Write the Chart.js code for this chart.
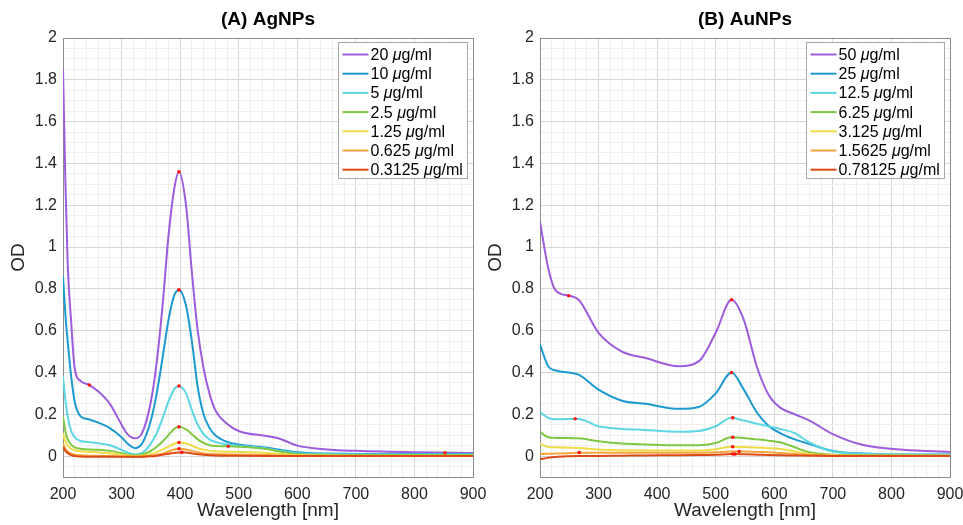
<!DOCTYPE html>
<html>
<head>
<meta charset="utf-8">
<script src="https://cdn.jsdelivr.net/npm/chart.js@4.4.0/dist/chart.umd.min.js"></script>
<style>
  body { margin: 0; background: #fff; width: 963px; height: 525px; overflow: hidden; position: relative; }
  .panel { position: absolute; top: 0; height: 525px; }
</style>
</head>
<body>
<div class="panel" style="left:0;width:500px"><canvas id="chartA" width="500" height="525"></canvas></div>
<div class="panel" style="left:477px;width:486px"><canvas id="chartB" width="486" height="525"></canvas></div>
<script>
// ---- (A) AgNPs ----
const agWavelength = [200, 204, 208, 214, 220, 230, 245, 260, 280, 300, 310, 323, 335, 350, 360, 370, 380, 390, 398, 410, 420, 430, 440, 450, 460, 480, 500, 550, 570, 600, 650, 700, 800, 900];
const ag20     = [1.85, 1.32, 0.92, 0.64, 0.42, 0.36, 0.34, 0.31, 0.25, 0.15, 0.105, 0.085, 0.11, 0.26, 0.45, 0.72, 1.05, 1.28, 1.36, 1.2, 0.88, 0.6, 0.42, 0.3, 0.22, 0.155, 0.12, 0.095, 0.083, 0.05, 0.032, 0.025, 0.018, 0.015];
const ag10     = [0.86, 0.68, 0.55, 0.38, 0.26, 0.19, 0.175, 0.16, 0.134, 0.09, 0.06, 0.038, 0.06, 0.17, 0.3, 0.47, 0.65, 0.77, 0.795, 0.72, 0.55, 0.33, 0.2, 0.135, 0.1, 0.068, 0.055, 0.04, 0.03, 0.018, 0.012, 0.01, 0.01, 0.01];
const ag5      = [0.38, 0.27, 0.19, 0.12, 0.09, 0.072, 0.067, 0.062, 0.052, 0.03, 0.017, 0.008, 0.015, 0.06, 0.11, 0.18, 0.26, 0.32, 0.335, 0.3, 0.22, 0.15, 0.105, 0.08, 0.068, 0.056, 0.05, 0.035, 0.025, 0.014, 0.01, 0.008, 0.008, 0.008];
const ag2_5    = [0.19, 0.12, 0.08, 0.055, 0.042, 0.035, 0.031, 0.03, 0.025, 0.014, 0.007, 0.003, 0.008, 0.025, 0.045, 0.07, 0.1, 0.13, 0.14, 0.128, 0.105, 0.08, 0.063, 0.052, 0.048, 0.047, 0.045, 0.033, 0.022, 0.01, 0.006, 0.005, 0.005, 0.005];
const ag1_25   = [0.11, 0.07, 0.05, 0.035, 0.028, 0.023, 0.02, 0.018, 0.014, 0.007, 0.003, 0.0, 0.002, 0.01, 0.02, 0.032, 0.045, 0.06, 0.065, 0.06, 0.05, 0.038, 0.03, 0.025, 0.023, 0.021, 0.02, 0.015, 0.01, 0.005, 0.003, 0.002, 0.002, 0.002];
const ag0_625  = [0.06, 0.035, 0.022, 0.012, 0.007, 0.004, 0.002, 0.001, 0.0, -0.002, -0.003, -0.003, -0.002, 0.002, 0.006, 0.012, 0.022, 0.032, 0.035, 0.032, 0.025, 0.018, 0.013, 0.01, 0.009, 0.008, 0.007, 0.005, 0.003, 0.002, 0.001, 0.0, 0.0, 0.0];
const ag0_3125 = [0.045, 0.025, 0.014, 0.005, 0.0, -0.002, -0.003, -0.003, -0.003, -0.003, -0.003, -0.003, -0.003, -0.001, 0.002, 0.006, 0.011, 0.015, 0.017, 0.017, 0.013, 0.009, 0.006, 0.004, 0.003, 0.002, 0.002, 0.001, 0.0, 0.0, 0.0, 0.0, 0.0, 0.0];
const agLabels = ['20', '10', '5', '2.5', '1.25', '0.625', '0.3125'];
const agMarkX = [245, 398, 852, 398, 398, 398, 482, 398, 398, 403];
const agMarkY = [0.34, 1.36, 0.016, 0.795, 0.335, 0.14, 0.047, 0.065, 0.035, 0.018];

// ---- (B) AuNPs ----
const auWavelength = [200, 214, 226, 249, 266, 300, 340, 380, 437, 471, 500, 527, 548, 570, 590, 610, 635, 660, 700, 750, 820, 900];
const au50      = [1.12, 0.9, 0.795, 0.767, 0.748, 0.59, 0.5, 0.469, 0.43, 0.453, 0.59, 0.748, 0.652, 0.43, 0.295, 0.232, 0.2, 0.17, 0.105, 0.054, 0.03, 0.02];
const au25      = [0.533, 0.43, 0.41, 0.4, 0.39, 0.318, 0.265, 0.25, 0.226, 0.235, 0.3, 0.4, 0.318, 0.21, 0.145, 0.11, 0.08, 0.058, 0.025, 0.012, 0.008, 0.008];
const au12_5    = [0.21, 0.183, 0.176, 0.177, 0.177, 0.143, 0.13, 0.125, 0.116, 0.12, 0.143, 0.183, 0.17, 0.155, 0.143, 0.13, 0.11, 0.065, 0.022, 0.012, 0.008, 0.008];
const au6_25    = [0.116, 0.09, 0.087, 0.086, 0.085, 0.071, 0.06, 0.056, 0.052, 0.052, 0.063, 0.09, 0.086, 0.08, 0.074, 0.066, 0.042, 0.018, 0.006, 0.004, 0.003, 0.003];
const au3_125   = [0.058, 0.044, 0.042, 0.04, 0.039, 0.031, 0.028, 0.027, 0.027, 0.027, 0.033, 0.045, 0.043, 0.041, 0.038, 0.034, 0.022, 0.01, 0.004, 0.002, 0.002, 0.002];
const au1_5625  = [0.01, 0.011, 0.012, 0.014, 0.016, 0.016, 0.016, 0.016, 0.016, 0.016, 0.018, 0.022, 0.022, 0.02, 0.018, 0.015, 0.01, 0.006, 0.003, 0.002, 0.002, 0.002];
const au0_78125 = [-0.015, -0.008, -0.004, -0.001, 0.0, 0.001, 0.002, 0.003, 0.004, 0.005, 0.006, 0.01, 0.009, 0.007, 0.005, 0.004, 0.003, 0.002, 0.001, 0.001, 0.001, 0.001];
const auLabels = ['50', '25', '12.5', '6.25', '3.125', '1.5625', '0.78125'];
const auMarkX = [249, 527, 527, 260, 529, 529, 529, 267, 540, 529, 533];
const auMarkY = [0.767, 0.748, 0.4, 0.179, 0.183, 0.09, 0.045, 0.017, 0.022, 0.01, 0.01];

const seriesColors = ['#9d5cdc', '#1c9ad0', '#5dd6e4', '#7fc843', '#efdd48', '#f6a53a', '#dc4a18'];

// axis grid positions (major + minor) and labelled ticks
const xGrid = [];
for (let v = 200; v <= 900; v += 20) xGrid.push(v);
const yGrid = [];
for (let i = -2; i <= 40; i++) yGrid.push(Math.round(i * 5) / 100);

const FONT = '"Liberation Sans", Arial, Helvetica, sans-serif';
Chart.defaults.font.family = FONT;

const isMajorX = v => v % 100 === 0;
const isMajorY = v => v > -1e-9 && Math.abs(v / 0.2 - Math.round(v / 0.2)) < 1e-6;

const panelPlugin = {
  id: 'panelDeco',
  beforeDatasetsDraw(chart) {
    const { ctx, chartArea: ca } = chart;
    ctx.save();
    ctx.strokeStyle = '#8c8c8c';
    ctx.lineWidth = 1;
    ctx.strokeRect(Math.round(ca.left) + 0.5, Math.round(ca.top) + 0.5, Math.round(ca.right - ca.left), Math.round(ca.bottom - ca.top));
    ctx.restore();
  },
  afterDraw(chart, args, opts) {
    const { ctx, chartArea: ca } = chart;
    ctx.save();
    // title
    ctx.fillStyle = '#000';
    ctx.font = 'bold 19px ' + FONT;
    ctx.textAlign = 'center';
    ctx.textBaseline = 'middle';
    ctx.fillText(opts.title, (ca.left + ca.right) / 2, 20);

    // legend
    const normal = '16px ' + FONT;
    const italic = 'italic 16px ' + FONT;
    let maxW = 0;
    const widths = opts.labels.map(l => {
      ctx.font = normal;
      const a = ctx.measureText(l + ' ').width;
      const c = ctx.measureText('g/ml').width;
      ctx.font = italic;
      const b = ctx.measureText('μ').width;
      maxW = Math.max(maxW, a + b + c);
      return [a, b];
    });
    const lineLen = 26, rowH = 19.2;
    const w = Math.round(4 + lineLen + 2 + maxW + 5);
    const h = Math.round(12 + rowH * (opts.labels.length - 1) + 9);
    const x0 = Math.round(ca.right - 6 - w) + 0.5, y0 = Math.round(ca.top + 4) + 0.5;
    ctx.fillStyle = '#fff';
    ctx.fillRect(x0, y0, w, h);
    ctx.strokeStyle = '#a8a8a8';
    ctx.lineWidth = 1;
    ctx.strokeRect(x0, y0, w, h);
    ctx.textAlign = 'left';
    ctx.textBaseline = 'middle';
    opts.labels.forEach((l, i) => {
      const cy = y0 + 12 + i * rowH;
      ctx.strokeStyle = seriesColors[i];
      ctx.lineWidth = 2;
      ctx.beginPath();
      ctx.moveTo(x0 + 4, cy);
      ctx.lineTo(x0 + 4 + lineLen, cy);
      ctx.stroke();
      let tx = x0 + 4 + lineLen + 2;
      ctx.fillStyle = '#000';
      ctx.font = normal;
      ctx.fillText(l + ' ', tx, cy + 1);
      tx += widths[i][0];
      ctx.font = italic;
      ctx.fillText('μ', tx, cy + 1);
      tx += widths[i][1];
      ctx.font = normal;
      ctx.fillText('g/ml', tx, cy + 1);
    });
    ctx.restore();
  }
};

function makePanel(id, title, wavelength, series, labels, markX, markY, padRight) {
  const datasets = series.map((ys, i) => ({
    type: 'line',
    data: wavelength.map((x, j) => ({ x, y: ys[j] })),
    borderColor: seriesColors[i],
    borderWidth: 2,
    pointRadius: 0,
    cubicInterpolationMode: 'monotone',
    order: 10 - i
  }));
  datasets.push({
    type: 'scatter',
    data: markX.map((x, j) => ({ x, y: markY[j] })),
    backgroundColor: '#ff1010',
    borderWidth: 0,
    pointRadius: 1.8,
    order: 0
  });

  return new Chart(document.getElementById(id), {
    type: 'line',
    data: { datasets },
    plugins: [panelPlugin],
    options: {
      responsive: false,
      animation: false,
      layout: { padding: { top: 38, right: padRight, left: 0, bottom: 0 } },
      plugins: {
        legend: { display: false },
        tooltip: { enabled: false },
        panelDeco: { title, labels }
      },
      scales: {
        x: {
          type: 'linear',
          min: 200,
          max: 900,
          afterBuildTicks: s => { s.ticks = xGrid.map(v => ({ value: v })); },
          afterFit: s => { s.height = 48; s.paddingLeft = 0; s.paddingRight = 0; },
          ticks: {
            autoSkip: false, maxRotation: 0, minRotation: 0, padding: 8,
            color: '#262626', font: { size: 16 },
            callback: v => (isMajorX(v) ? String(v) : '')
          },
          grid: {
            drawTicks: false,
            color: c => (isMajorX(c.tick.value) ? '#d6d6d6' : '#efefef')
          },
          border: { color: '#8c8c8c' },
          title: {
            display: true, text: 'Wavelength [nm]', color: '#262626',
            font: { size: 19 }, padding: { top: 0, bottom: 3 }
          }
        },
        y: {
          min: -0.1,
          max: 2,
          afterBuildTicks: s => { s.ticks = yGrid.map(v => ({ value: v })); },
          afterFit: s => { s.width = 63; },
          ticks: {
            autoSkip: false, padding: 6,
            color: '#262626', font: { size: 16 },
            callback: v => (isMajorY(v) ? String(Number(v.toFixed(1))) : '')
          },
          grid: {
            drawTicks: false,
            color: c => (isMajorY(c.tick.value) ? '#d6d6d6' : '#efefef')
          },
          border: { color: '#8c8c8c' },
          title: {
            display: true, text: 'OD', color: '#262626',
            font: { size: 19 }, padding: { top: 7, bottom: 0 }
          }
        }
      }
    }
  });
}

makePanel('chartA', '(A) AgNPs', agWavelength,
  [ag20, ag10, ag5, ag2_5, ag1_25, ag0_625, ag0_3125], agLabels, agMarkX, agMarkY, 27);
makePanel('chartB', '(B) AuNPs', auWavelength,
  [au50, au25, au12_5, au6_25, au3_125, au1_5625, au0_78125], auLabels, auMarkX, auMarkY, 13);
</script>
</body>
</html>
